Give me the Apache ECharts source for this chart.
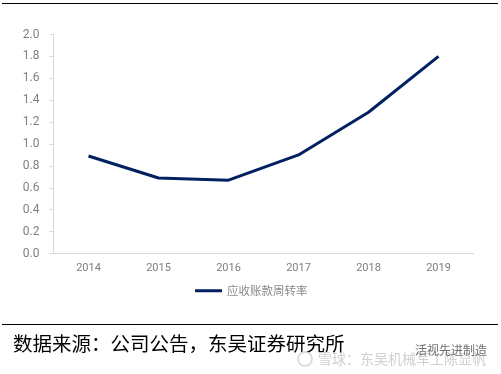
<!DOCTYPE html>
<html>
<head>
<meta charset="utf-8">
<style>
html, body { margin: 0; padding: 0; background: #fff; }
#main { width: 501px; height: 374px; }
</style>
<script src="https://cdn.jsdelivr.net/npm/echarts@6/dist/echarts.min.js"></script>
</head>
<body>
<div id="main"></div>
<script>
var years = ['2014', '2015', '2016', '2017', '2018', '2019']
var turnover = [0.89, 0.69, 0.67, 0.90, 1.29, 1.80]
var seriesName = '应收账款周转率'
var sourceText = '数据来源：公司公告，东吴证券研究所'
var markText1 = '活视先进制造'
var markText2 = '雪球：东吴机械军工陈显帆'

var myChart = echarts.init(document.getElementById('main'), null, { renderer: 'canvas' })
myChart.setOption({
    animation: false,
    backgroundColor: '#fff',
    grid: { left: 53.5, right: 27.5, top: 34.5, bottom: 120.5 },
    legend: {
        data: [seriesName],
        left: 190,
        top: 280,
        itemWidth: 27,
        itemHeight: 3,
        itemGap: 4,
        icon: 'rect',
        textStyle: { color: '#8a8a8a', fontSize: 11.5, fontFamily: 'Noto Sans CJK SC' }
    },
    xAxis: {
        type: 'category',
        data: years,
        axisLine: { lineStyle: { color: '#d9d9d9', width: 1 } },
        axisTick: { show: false },
        axisLabel: { color: '#7f7f7f', fontSize: 11, margin: 9, fontFamily: 'Roboto' }
    },
    yAxis: {
        type: 'value',
        min: 0,
        max: 2,
        interval: 0.2,
        axisLine: { show: true, lineStyle: { color: '#d9d9d9', width: 1 } },
        axisTick: { show: true, length: 4, lineStyle: { color: '#d9d9d9' } },
        splitLine: { show: false },
        axisLabel: {
            color: '#7f7f7f',
            fontSize: 12,
            margin: 14,
            fontFamily: 'Roboto',
            formatter: function (v) { return v.toFixed(1) }
        }
    },
    series: [{
        name: seriesName,
        type: 'line',
        data: turnover,
        symbol: 'none',
        lineStyle: { color: '#002060', width: 3 },
        itemStyle: { color: '#002060' }
    }],
    graphic: [
        { type: 'rect', shape: { x: 2, y: 3, width: 496, height: 1 }, style: { fill: '#000' } },
        { type: 'rect', shape: { x: 2, y: 324, width: 496, height: 1 }, style: { fill: '#000' } },
        { type: 'text', left: 13, top: 334, style: { text: sourceText, fill: '#000', font: '19.5px "Noto Sans CJK SC"' } },
        { type: 'circle', shape: { cx: 305, cy: 359, r: 7 }, style: { fill: 'none', stroke: '#d4d4d4', lineWidth: 1.5 } },
        { type: 'text', left: 318, top: 352, style: { text: markText2, fill: '#d0d0d0', font: '14px "Noto Sans CJK SC"' } },
        { type: 'text', left: 415, top: 344, style: { text: markText1, fill: '#707070', font: '12px "Noto Sans CJK SC"' } }
    ]
})
</script>
</body>
</html>
